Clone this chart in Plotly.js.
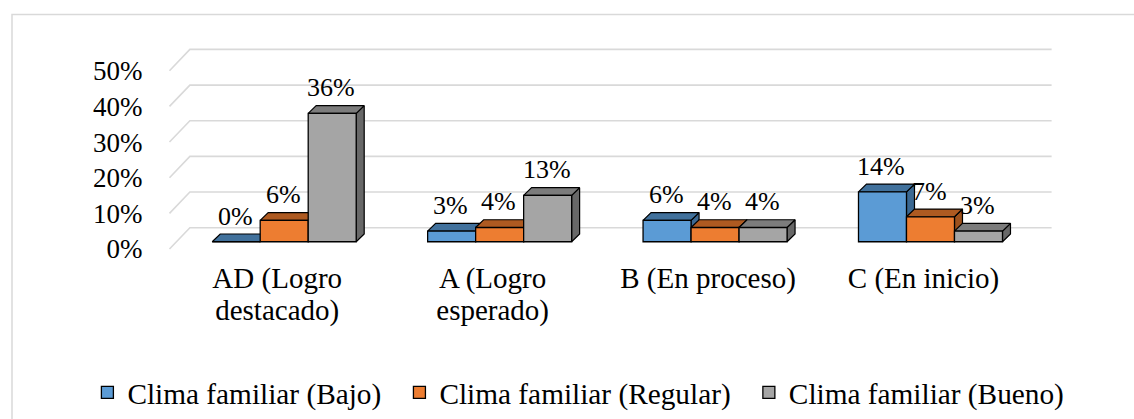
<!DOCTYPE html>
<html>
<head>
<meta charset="utf-8">
<script src="https://cdn.plot.ly/plotly-3.0.1.min.js"></script>
<style>
  html, body { margin: 0; padding: 0; background: #ffffff; overflow: hidden; }
  #chart { width: 1134px; height: 419px; }
</style>
</head>
<body>
<div id="chart"></div>
<script>
// ---------------- data ----------------
const categories = ["AD (Logro\ndestacado)", "A (Logro\nesperado)", "B (En proceso)", "C (En inicio)"];
const seriesNames = ["Clima familiar (Bajo)", "Clima familiar (Regular)", "Clima familiar (Bueno)"];
const bajo = [0, 3, 6, 14];
const regular = [6, 4, 4, 7];
const bueno = [36, 13, 4, 3];
const yTicks = [0, 10, 20, 30, 40, 50];

// ---------------- styles / geometry ----------------
const seriesValues = [bajo, regular, bueno];
const frontColors = ['#5b9bd5', '#ed7d31', '#a5a5a5'];
const topColors   = ['#41719c', '#ae5a21', '#7c7c7c'];
const sideColors  = ['#3b6892', '#9d511d', '#686868'];
const FONT = '"Liberation Serif", "Times New Roman", Tinos, "DejaVu Serif", serif';
const LEGEND_PAD = '\u00a0\u2009';

const W = 1134, H = 419;
const PX_X = 215.43;       // px per category
const C0 = 284.2;          // px of first category centre (bar plane)
const PX_Y = 3.68;         // px per percent
const Y0 = 249.5;          // px of 0 % on bar plane
const xDom = [150, 1090];  // px
const yDom = [30, 266.5];  // px (top, bottom)
const xRange = [(xDom[0] - C0) / PX_X, (xDom[1] - C0) / PX_X];
const yRange = [(Y0 - yDom[1]) / PX_Y, (Y0 - yDom[0]) / PX_Y];
const ux = px => px / PX_X;
const uy = px => px / PX_Y;
const DEPTH = {dx: 8, dy: 8};
const BACK = {dx: 13.4, dy: 14.5};
const FRONT = {dx: -7, dy: -7.5};
const barW = 48 / PX_X;
const nCat = categories.length;
const offsets = seriesNames.map((_, j) => -1.5 * barW + j * barW);

const traces = [];

// back wall + floor gridlines
const gx = [], gy = [];
yTicks.forEach(v => {
  gx.push(-0.5 + ux(FRONT.dx), -0.5 + ux(BACK.dx), nCat - 0.5 + ux(BACK.dx), null);
  gy.push(v + uy(FRONT.dy), v + uy(BACK.dy), v + uy(BACK.dy), null);
});
traces.push({type: 'scatter', mode: 'lines', x: gx, y: gy, xaxis: 'x', yaxis: 'y',
  line: {color: '#d9d9d9', width: 1.6}, hoverinfo: 'skip', showlegend: false});

// 3D side & top faces
seriesValues.forEach((vals, j) => {
  const sx = [], sy = [], tx = [], ty = [];
  vals.forEach((v, i) => {
    const x0 = i + offsets[j], x1 = x0 + barW;
    const ddx = ux(DEPTH.dx), ddy = uy(DEPTH.dy);
    sx.push(x1, x1 + ddx, x1 + ddx, x1, x1, null);
    sy.push(0, ddy, v + ddy, v, 0, null);
    tx.push(x0, x0 + ddx, x1 + ddx, x1, x0, null);
    ty.push(v, v + ddy, v + ddy, v, v, null);
  });
  traces.push({type: 'scatter', mode: 'lines', x: sx, y: sy, fill: 'toself', fillcolor: sideColors[j],
    line: {color: '#000000', width: 1.2}, hoverinfo: 'skip', showlegend: false, xaxis: 'x', yaxis: 'y'});
  traces.push({type: 'scatter', mode: 'lines', x: tx, y: ty, fill: 'toself', fillcolor: topColors[j],
    line: {color: '#000000', width: 1.2}, hoverinfo: 'skip', showlegend: false, xaxis: 'x', yaxis: 'y'});
});

// front faces (bars) on overlay subplot so they sit above the faces
seriesValues.forEach((vals, j) => {
  traces.push({type: 'bar', name: seriesNames[j] + LEGEND_PAD, x: categories.map((_, i) => i), y: vals,
    width: barW, offset: offsets[j], xaxis: 'x2', yaxis: 'y2',
    marker: {color: frontColors[j], line: {color: '#000000', width: 1.3}}, hoverinfo: 'skip'});
});

// data labels
const annotations = [];
seriesValues.forEach((vals, j) => {
  vals.forEach((v, i) => {
    annotations.push({x: i + offsets[j] + barW / 2, y: v, xref: 'x2', yref: 'y2',
      text: v + '%', showarrow: false, yshift: 25.5, xshift: -1,
      xanchor: 'center', yanchor: 'middle', font: {family: FONT, size: 26, color: '#000'}});
  });
});

const line1 = categories.map(c => c.split('\n')[0]);
const line2 = categories.map(c => c.split('\n')[1] || '');
const catTickVals = categories.map((_, i) => i + ux(FRONT.dx));

const layout = {
  width: W, height: H,
  margin: {l: 0, r: 0, t: 0, b: 0},
  paper_bgcolor: '#ffffff', plot_bgcolor: 'rgba(0,0,0,0)',
  font: {family: FONT, color: '#000000'},
  barmode: 'overlay',
  xaxis: {domain: [xDom[0] / W, xDom[1] / W], range: xRange, showgrid: false, zeroline: false,
    showline: false, ticks: '', tickvals: catTickVals, ticktext: line1,
    tickfont: {family: FONT, size: 29, color: '#000'}, fixedrange: true},
  xaxis2: {overlaying: 'x', anchor: 'y2', range: xRange, showgrid: false, zeroline: false,
    showline: false, ticks: 'outside', ticklen: 26, tickcolor: 'rgba(0,0,0,0)',
    tickvals: catTickVals, ticktext: line2,
    tickfont: {family: FONT, size: 29, color: '#000'}, fixedrange: true},
  yaxis: {domain: [1 - yDom[1] / H, 1 - yDom[0] / H], range: yRange, showgrid: false, zeroline: false,
    showline: false, ticks: 'outside', ticklen: 1, tickcolor: 'rgba(0,0,0,0)',
    tickvals: yTicks.map(v => v + uy(FRONT.dy)), ticktext: yTicks.map(v => v + '%'),
    tickfont: {family: FONT, size: 27, color: '#000'}, fixedrange: true},
  yaxis2: {overlaying: 'y', anchor: 'x2', range: yRange, visible: false, fixedrange: true},
  showlegend: true,
  legend: {orientation: 'h', x: (128 - 40.6) / W, y: 1 - 405.5 / H, xanchor: 'left', yanchor: 'middle',
    font: {family: FONT, size: 29.3, color: '#000'}, bgcolor: 'rgba(0,0,0,0)', traceorder: 'normal'},
  annotations: annotations,
  shapes: [{type: 'rect', xref: 'paper', yref: 'paper', x0: 12 / W, x1: 1.05, y0: -0.1, y1: 1 - 15 / H,
    line: {color: '#d9d9d9', width: 1.5}, fillcolor: 'rgba(0,0,0,0)', layer: 'below'}]
};

Plotly.newPlot('chart', traces, layout, {displayModeBar: false, staticPlot: true});
</script>
</body>
</html>
